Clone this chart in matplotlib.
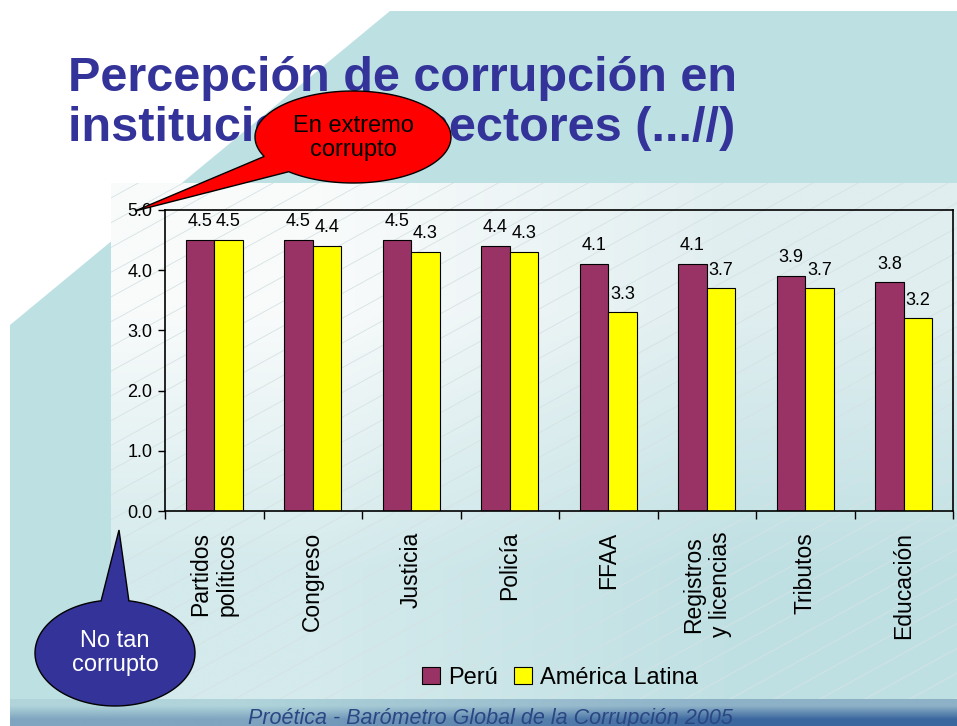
import matplotlib
matplotlib.use("Agg")
import matplotlib.pyplot as plt
from matplotlib.patches import Polygon, Rectangle
from matplotlib.colors import to_rgb
import numpy as np

plt.rcParams['font.family'] = ['Liberation Sans', 'DejaVu Sans']

# data
categories = ["Partidos\npolíticos", "Congreso", "Justicia", "Policía", "FFAA",
              "Registros\ny licencias", "Tributos", "Educación"]
peru = [4.5, 4.5, 4.5, 4.4, 4.1, 4.1, 3.9, 3.8]
america_latina = [4.5, 4.4, 4.3, 4.3, 3.3, 3.7, 3.7, 3.2]
series_names = ["Perú", "América Latina"]
y_ticks = [0, 1, 2, 3, 4, 5]

title_lines = ["Percepción de corrupción en", "instituciones y sectores (...//)"]
footer = "Proética - Barómetro Global de la Corrupción 2005"

W, H = 957, 726
fig = plt.figure(figsize=(W / 100, H / 100), dpi=100)


def gradient(ax, extent, tl, tr, bl, br, z=0):
    # 2x2 image, bilinear -> smooth gradient
    img = np.array([[to_rgb(tl), to_rgb(tr)], [to_rgb(bl), to_rgb(br)]])
    ax.imshow(img, extent=extent, aspect='auto', interpolation='bilinear', zorder=z)


def callout(ax, cx, cy, a, b, t1, t2, tip, color):
    # ellipse outline with a gap between angles t1..t2 where the tail goes to tip
    t = np.radians(np.linspace(t2, t1 + 360, 200))
    pts = np.column_stack([cx + a * np.cos(t), cy + b * np.sin(t)])
    pts = np.vstack([pts, [tip]])
    ax.add_patch(Polygon(pts, closed=True, facecolor=color, edgecolor='black', lw=1.0, zorder=5))


# ---- background (pixel coords) ----
bg = fig.add_axes([0, 0, 1, 1], zorder=0)
bg.add_patch(Polygon([(390, 11), (W, 11), (W, 699), (10, 699), (10, 325)],
                     closed=True, facecolor='#bde0e3', edgecolor='none', zorder=1))
gradient(bg, (111, W, 699, 183), '#f9fbfb', '#e0eef0', '#d4eaec', '#bfe0e3', z=2)
gradient(bg, (10, W, H, 699), '#b0d4da', '#8db1c7', '#7fa5c0', '#3b679f', z=2)

# faint diagonal lines on the panel
clip = Rectangle((111, 183), W - 111, 699 - 183, transform=bg.transData)
for x0 in np.arange(-800, W, 45):
    ln, = bg.plot([x0, x0 + 1100], [699, 699 - 1100 * 0.55], color='#d6e2e4', lw=0.6, zorder=3)
    ln.set_clip_path(clip)

bg.text(68, 91, title_lines[0], fontsize=35, fontweight='bold', color='#333399',
        ha='left', va='baseline', zorder=4)
bg.text(68, 141, title_lines[1], fontsize=35, fontweight='bold', color='#333399',
        ha='left', va='baseline', zorder=4)
bg.text(490, 708, footer, fontsize=15.5, style='italic', color='#2a4683',
        ha='center', va='top', zorder=4)
bg.set_xlim(0, W)
bg.set_ylim(H, 0)
bg.axis('off')

# ---- chart ----
ax = fig.add_axes([165 / W, 1 - 511 / H, (953 - 165) / W, (511 - 210) / H], zorder=2)
ax.set_facecolor('none')
x = np.arange(len(categories))
bw = 0.29
b1 = ax.bar(x - bw / 2, peru, bw, color='#993366', edgecolor='black', lw=0.8, label=series_names[0])
b2 = ax.bar(x + bw / 2, america_latina, bw, color='#ffff00', edgecolor='black', lw=0.8, label=series_names[1])
ax.bar_label(b1, fmt='%.1f', padding=7, fontsize=13)
ax.bar_label(b2, fmt='%.1f', padding=7, fontsize=13)

ax.set_xlim(-0.5, len(categories) - 0.5)
ax.set_ylim(0, 5)
ax.set_yticks(y_ticks)
ax.set_yticklabels([f"{v:.1f}" for v in y_ticks], fontsize=13)
ax.set_xticks(x)
ax.set_xticklabels(categories, rotation=90, fontsize=16.5, multialignment='center')
ax.set_xticks(np.arange(-0.5, len(categories), 1), minor=True)
ax.tick_params(axis='x', which='major', length=0, pad=15)
ax.tick_params(axis='x', which='minor', length=6, width=1, direction='out')
ax.tick_params(axis='y', length=5, width=1, direction='out', pad=4)
for s in ax.spines.values():
    s.set_linewidth(1.2)
    s.set_color('black')

fig.legend(loc='center', bbox_to_anchor=(560 / W, 1 - 678 / H), ncol=2, frameon=False,
           fontsize=17, handlelength=0.75, handleheight=0.75, handletextpad=0.35,
           columnspacing=0.7)

# ---- callouts on top ----
ov = fig.add_axes([0, 0, 1, 1], zorder=3)
ov.set_facecolor('none')
callout(ov, 353, 137, 98, 46, 131, 155, (135, 211), '#ff0000')
ov.text(353, 138, "En extremo\ncorrupto", fontsize=17, color='black',
        ha='center', va='center', zorder=6, linespacing=1.1)
callout(ov, 115, 653, 80, 53, 260, 280, (119, 530), '#333399')
ov.text(115, 653, "No tan\ncorrupto", fontsize=17, color='white',
        ha='center', va='center', zorder=6, linespacing=1.15)
ov.set_xlim(0, W)
ov.set_ylim(H, 0)
ov.axis('off')

fig.savefig("out.png", dpi=100)
